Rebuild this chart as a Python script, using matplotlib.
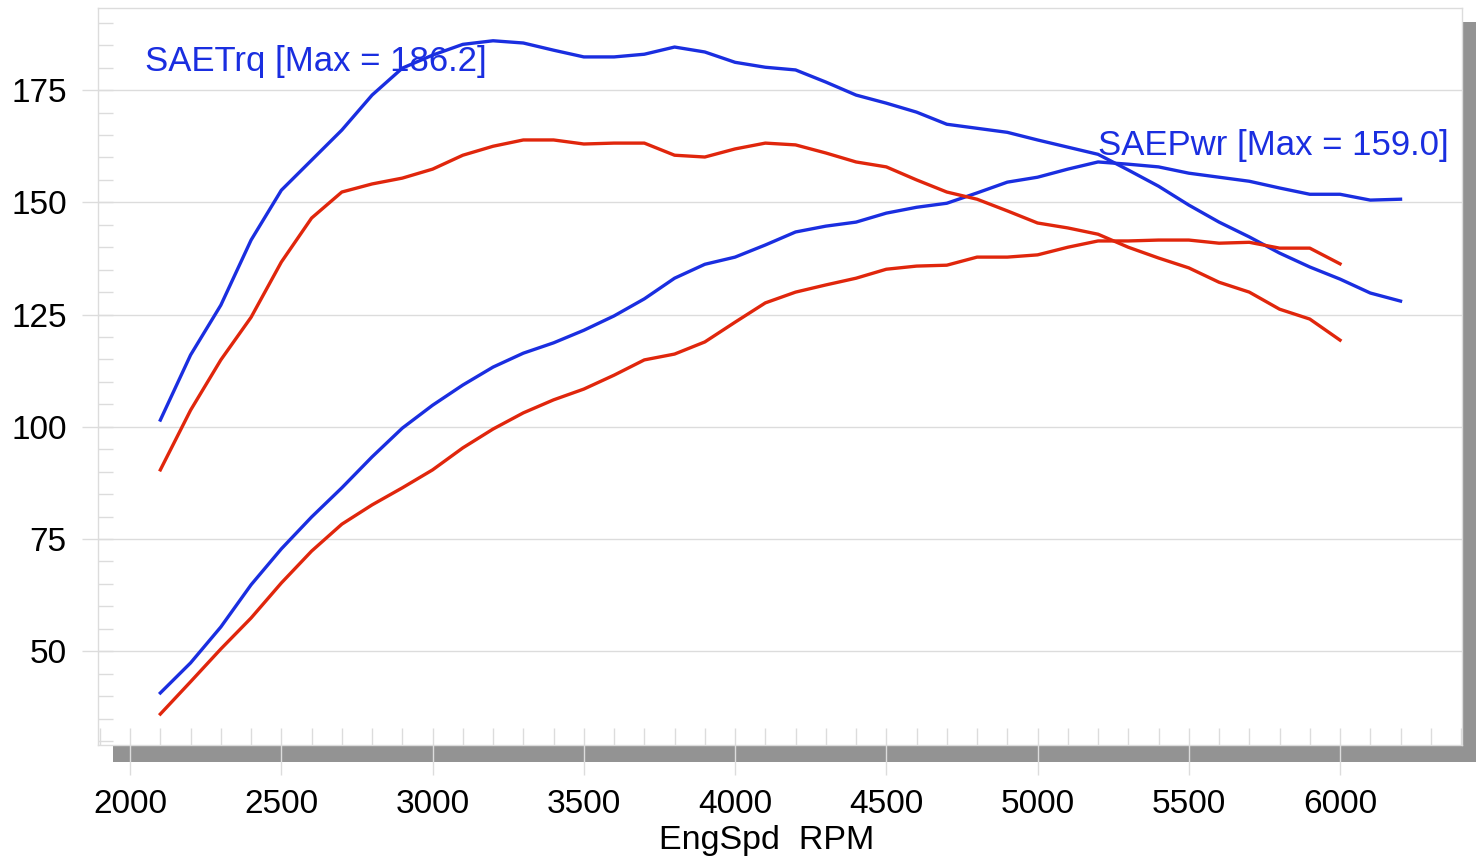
import matplotlib.pyplot as plt
from matplotlib.patches import Rectangle
from matplotlib.ticker import MultipleLocator

plt.rcParams['font.family'] = ['Liberation Sans', 'DejaVu Sans']

# engine speed steps
rpm_long = list(range(2100, 6201, 100))   # blue run
rpm_short = list(range(2100, 6001, 100))  # red run

# blue run
blue_trq = [101.5, 116.0, 127.1, 141.6, 152.7, 159.4, 166.1, 173.9, 179.9, 182.8,
            185.2, 186.0, 185.5, 183.9, 182.4, 182.4, 183.0, 184.6, 183.5, 181.2,
            180.1, 179.5, 176.8, 173.9, 172.1, 170.1, 167.4, 166.5, 165.6, 163.9,
            162.3, 160.7, 157.2, 153.6, 149.4, 145.6, 142.3, 138.7, 135.6, 132.9,
            129.8, 128.0]
blue_pwr = [40.7, 47.4, 55.4, 64.8, 72.8, 79.9, 86.4, 93.3, 99.7, 104.8,
            109.3, 113.3, 116.4, 118.7, 121.5, 124.7, 128.5, 133.1, 136.2, 137.8,
            140.5, 143.4, 144.7, 145.6, 147.6, 148.9, 149.8, 152.1, 154.5, 155.6,
            157.4, 159.0, 158.5, 157.9, 156.5, 155.6, 154.7, 153.2, 151.8, 151.8,
            150.5, 150.7]

# red run
red_trq = [90.4, 103.7, 114.9, 124.4, 136.7, 146.5, 152.3, 154.1, 155.4, 157.4,
           160.5, 162.5, 163.9, 163.9, 163.0, 163.2, 163.2, 160.5, 160.1, 161.9,
           163.2, 162.8, 161.0, 159.0, 157.9, 155.0, 152.3, 150.7, 148.1, 145.4,
           144.3, 142.9, 140.0, 137.6, 135.4, 132.2, 130.0, 126.2, 124.0, 119.3]
red_pwr = [36.0, 43.2, 50.5, 57.4, 65.2, 72.3, 78.3, 82.6, 86.4, 90.4,
           95.3, 99.5, 103.1, 106.0, 108.4, 111.5, 114.9, 116.2, 118.9, 123.3,
           127.6, 130.0, 131.6, 133.1, 135.1, 135.8, 136.0, 137.8, 137.8, 138.3,
           140.0, 141.4, 141.4, 141.6, 141.6, 140.9, 141.1, 139.8, 139.8, 136.3]

blue = '#1a2ee0'
red = '#e0260c'
grid_c = '#dcdcdc'

fig = plt.figure(figsize=(14.83, 8.60), dpi=100)

# drop shadow behind the plot box
fig.patches.append(Rectangle((0.0762, 0.114), 0.919, 0.8605, transform=fig.transFigure,
                             facecolor='#939393', edgecolor='none', zorder=-1))

ax = fig.add_axes([0.0661, 0.1337, 0.9197, 0.857])
ax.set_facecolor('white')

ax.plot(rpm_long, blue_trq, color=blue, lw=2.4)
ax.plot(rpm_long, blue_pwr, color=blue, lw=2.4)
ax.plot(rpm_short, red_trq, color=red, lw=2.4)
ax.plot(rpm_short, red_pwr, color=red, lw=2.4)

ax.text(2050, 179.3, 'SAETrq [Max = 186.2]', color=blue, fontsize=25)
ax.text(5200, 160.5, 'SAEPwr [Max = 159.0]', color=blue, fontsize=25)

ax.set_xlim(1894, 6403)
ax.set_ylim(29.1, 193.3)

ax.xaxis.set_major_locator(MultipleLocator(500))
ax.xaxis.set_minor_locator(MultipleLocator(100))
ax.yaxis.set_major_locator(MultipleLocator(25))
ax.yaxis.set_minor_locator(MultipleLocator(5))
ax.xaxis.remove_overlapping_locs = False
ax.yaxis.remove_overlapping_locs = False

ax.tick_params(axis='x', which='major', direction='out', length=21.5, width=1,
               color=grid_c, labelsize=24, pad=10)
ax.tick_params(axis='x', which='minor', direction='in', length=12.5, width=1, color=grid_c)
ax.tick_params(axis='y', which='major', direction='out', length=11.5, width=1,
               color=grid_c, labelsize=24, pad=11)
ax.tick_params(axis='y', which='minor', direction='in', length=11, width=1, color=grid_c)

ax.yaxis.grid(True, which='major', color=grid_c, lw=1)
ax.set_axisbelow(True)

for s in ax.spines.values():
    s.set_color(grid_c)
    s.set_linewidth(1)

ax.set_xlabel('EngSpd  RPM', fontsize=24.5)
ax.xaxis.set_label_coords(0.49, -0.108)

fig.savefig('out.png', dpi=100)
